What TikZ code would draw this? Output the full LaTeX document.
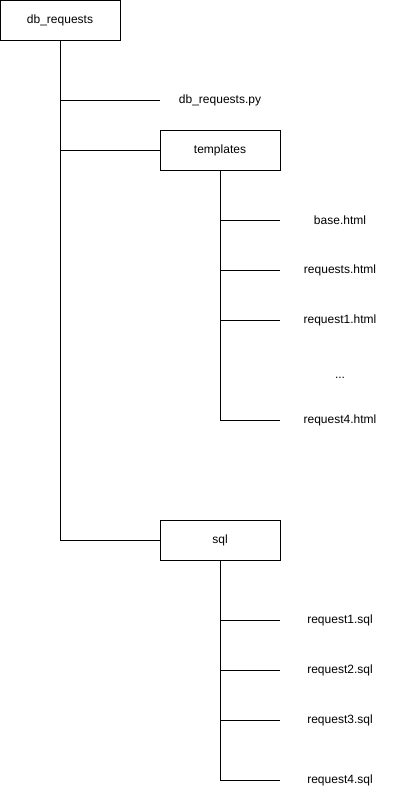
\documentclass[tikz,border=0pt]{standalone}
\usepackage{fontspec}
\setmainfont{Liberation Sans}
\begin{document}
\begin{tikzpicture}[x=1pt,y=-1pt,
  box/.style={draw,line width=1pt,minimum width=120pt,minimum height=40pt,inner sep=0pt,font=\fontsize{12}{14}\selectfont},
  leaf/.style={inner sep=0pt,minimum width=120pt,minimum height=20pt,font=\fontsize{12}{14}\selectfont},
  conn/.style={line width=1pt}]
\useasboundingbox (0,0) rectangle (401,801);
\node[box] (root) at (60,20.5) {db\_requests};
\node[leaf] (py) at (220,100.5) {db\_requests.py};
\node[box] (tpl) at (220,150.5) {templates};
\node[leaf] (base) at (340,220.5) {base.html};
\node[leaf] (reqs) at (340,270.5) {requests.html};
\node[leaf] (r1h) at (340,320.5) {request1.html};
\node[leaf] (dots) at (340,378) {...};
\node[leaf] (r4h) at (340,420.5) {request4.html};
\node[box] (sql) at (220,540.5) {sql};
\node[leaf] (s1) at (340,620.5) {request1.sql};
\node[leaf] (s2) at (340,670.5) {request2.sql};
\node[leaf] (s3) at (340,720.5) {request3.sql};
\node[leaf] (s4) at (340,780.5) {request4.sql};
\draw[conn] (root.south) |- (py.west);
\draw[conn] (root.south) |- (tpl.west);
\draw[conn] (root.south) |- (sql.west);
\foreach \n in {base,reqs,r1h,r4h} \draw[conn] (tpl.south) |- (\n.west);
\foreach \n in {s1,s2,s3,s4} \draw[conn] (sql.south) |- (\n.west);
\end{tikzpicture}
\end{document}
